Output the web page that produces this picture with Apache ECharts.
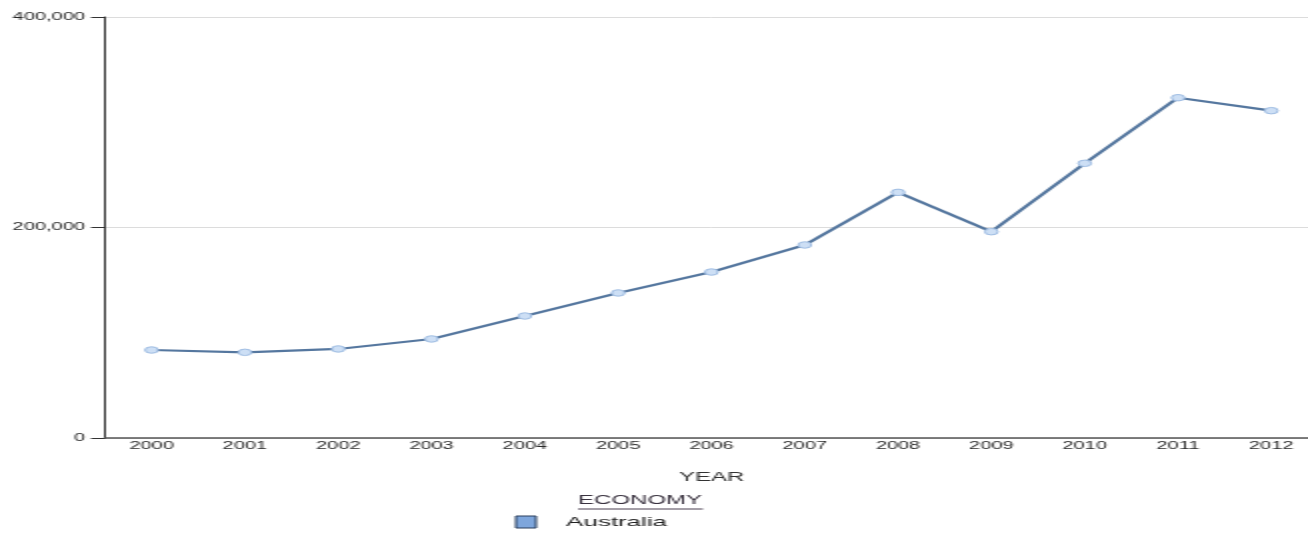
<!DOCTYPE html>
<html>
<head>
<meta charset="utf-8">
<script src="https://cdn.jsdelivr.net/npm/echarts@6/dist/echarts.min.js"></script>
<style>
html,body{margin:0;padding:0;background:#fff;overflow:hidden;width:1308px;height:534px;}
#chart{width:670px;height:534px;transform:scaleX(2);transform-origin:0 0;}
</style>
</head>
<body>
<div id="chart"></div>
<script>
var years = ['2000','2001','2002','2003','2004','2005','2006','2007','2008','2009','2010','2011','2012'];
var australia = [83600, 81400, 84600, 94100, 115900, 137800, 157700, 183400, 233400, 196000, 261000, 323300, 311000];
var yTicks = [0, 200000, 400000];
var seriesName = 'Australia';
var legendTitle = 'ECONOMY';
var xAxisTitle = 'YEAR';

var FONT = '"Liberation Sans", Arial, sans-serif';
var chart = echarts.init(document.getElementById('chart'), null, {renderer:'canvas'});
chart.setOption({
  animation: false,
  backgroundColor: '#fff',
  grid: {left: 52.5, width: 606.5, top: 17, height: 421, containLabel: false},
  xAxis: {
    type: 'category',
    data: years,
    boundaryGap: true,
    name: xAxisTitle,
    nameLocation: 'middle',
    nameGap: 34,
    nameTextStyle: {fontFamily: FONT, fontSize: 12, color: '#333', fontWeight: 'normal'},
    axisLine: {show: true, lineStyle: {color: '#555', width: 1.5}},
    axisTick: {show: false},
    axisLabel: {fontFamily: FONT, fontSize: 10, color: '#2a2a2a', margin: 3},
    splitLine: {show: false}
  },
  yAxis: {
    type: 'value',
    min: yTicks[0],
    max: yTicks[yTicks.length - 1],
    interval: yTicks[1] - yTicks[0],
    axisLine: {show: true, lineStyle: {color: '#333', width: 1}},
    axisTick: {show: true, length: 7, lineStyle: {color: '#333', width: 1}},
    axisLabel: {fontFamily: FONT, fontSize: 10, color: '#2a2a2a', margin: 10,
      formatter: function (v) { return v.toLocaleString('en-US'); }},
    splitLine: {show: true, lineStyle: {color: '#dcdcdc', width: 1}}
  },
  legend: {
    show: true,
    left: 257.5,
    top: 515.5,
    padding: 0,
    icon: 'rect',
    itemWidth: 10,
    itemHeight: 12,
    itemGap: 10,
    textStyle: {fontFamily: FONT, fontSize: 13, color: '#222', padding: [0, 0, 0, 10]},
    data: [{name: seriesName, itemStyle: {color: '#7ea6dc', borderColor: '#2b3f5c', borderWidth: 1}}]
  },
  graphic: [
    {type: 'text', left: 289, top: 495,
      style: {text: legendTitle, font: '12px ' + FONT, fill: '#3a3340'}},
    {type: 'line', shape: {x1: 289, y1: 509, x2: 351.5, y2: 509},
      style: {stroke: '#4a3f50', lineWidth: 1}}
  ],
  series: [{
    name: seriesName,
    type: 'line',
    data: australia,
    symbol: 'circle',
    symbolSize: 6.5,
    showSymbol: true,
    lineStyle: {color: '#55779f', width: 2.2},
    itemStyle: {color: '#cddff5', borderColor: '#9fbde3', borderWidth: 1}
  }]
});
</script>
</body>
</html>
